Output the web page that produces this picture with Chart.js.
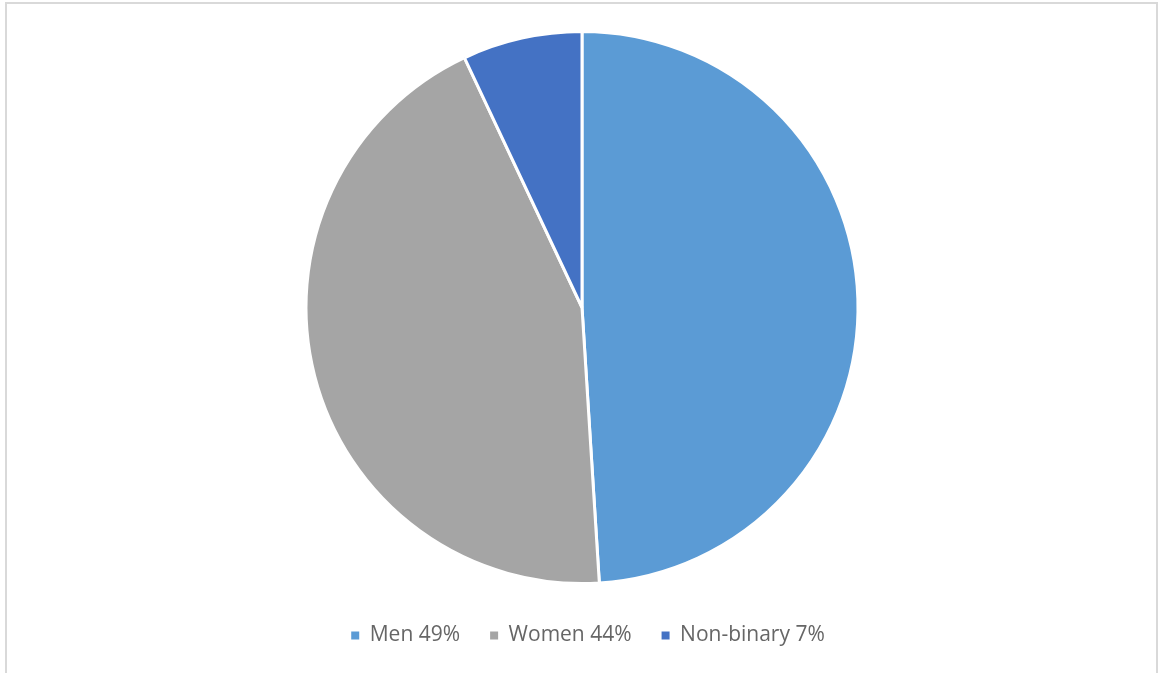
<!DOCTYPE html>
<html>
<head>
<meta charset="utf-8">
<script src="https://cdn.jsdelivr.net/npm/chart.js@4/dist/chart.umd.min.js"></script>
<style>
  html, body { margin: 0; padding: 0; background: #fff; overflow: hidden; }
  .frame {
    position: absolute; left: 5px; top: 2px; width: 1153px; height: 690px;
    border: 2px solid #d9d9d9; box-sizing: border-box;
  }
  .chart-container { position: absolute; left: 0; top: 0; width: 1158px; height: 673px; }
</style>
</head>
<body>
<div class="frame"></div>
<div class="chart-container"><canvas id="myChart"></canvas></div>
<script>
// Gender split of respondents
const categories = ['Men', 'Women', 'Non-binary'];
const shares = [49, 44, 7];
const legendLabels = ['Men 49%', 'Women 44%', 'Non-binary 7%'];
const sliceColors = ['#5b9bd5', '#a5a5a5', '#4472c4'];

// nudge the legend row a little to the right of the pie's centre line
const legendShift = {
    id: 'legendShift',
    afterLayout(chart) {
        chart.legend.left += 6;
        chart.legend.right += 6;
    }
};

const ctx = document.getElementById('myChart').getContext('2d');
const myChart = new Chart(ctx, {
    type: 'pie',
    data: {
        labels: categories,
        datasets: [{
            data: shares,
            backgroundColor: sliceColors,
            borderColor: '#ffffff',
            borderWidth: 3
        }]
    },
    options: {
        responsive: true,
        maintainAspectRatio: false,
        animation: false,
        layout: {
            padding: { top: 30, bottom: 17, left: 6, right: 0 }
        },
        plugins: {
            legend: {
                display: true,
                position: 'bottom',
                // empty title just adds a gap between pie and legend row
                title: { display: true, text: '', font: { size: 0 }, padding: { top: 10, bottom: 0 } },
                labels: {
                    boxWidth: 8,
                    boxHeight: 8,
                    padding: 30,
                    color: '#595959',
                    font: { family: '"Open Sans", "Liberation Sans", sans-serif', size: 21 },
                    generateLabels: chart => legendLabels.map((text, i) => ({
                        text: text,
                        fillStyle: sliceColors[i],
                        strokeStyle: sliceColors[i],
                        lineWidth: 0,
                        hidden: false,
                        index: i
                    }))
                }
            },
            tooltip: { enabled: false }
        }
    },
    plugins: [legendShift]
});
</script>
</body>
</html>
